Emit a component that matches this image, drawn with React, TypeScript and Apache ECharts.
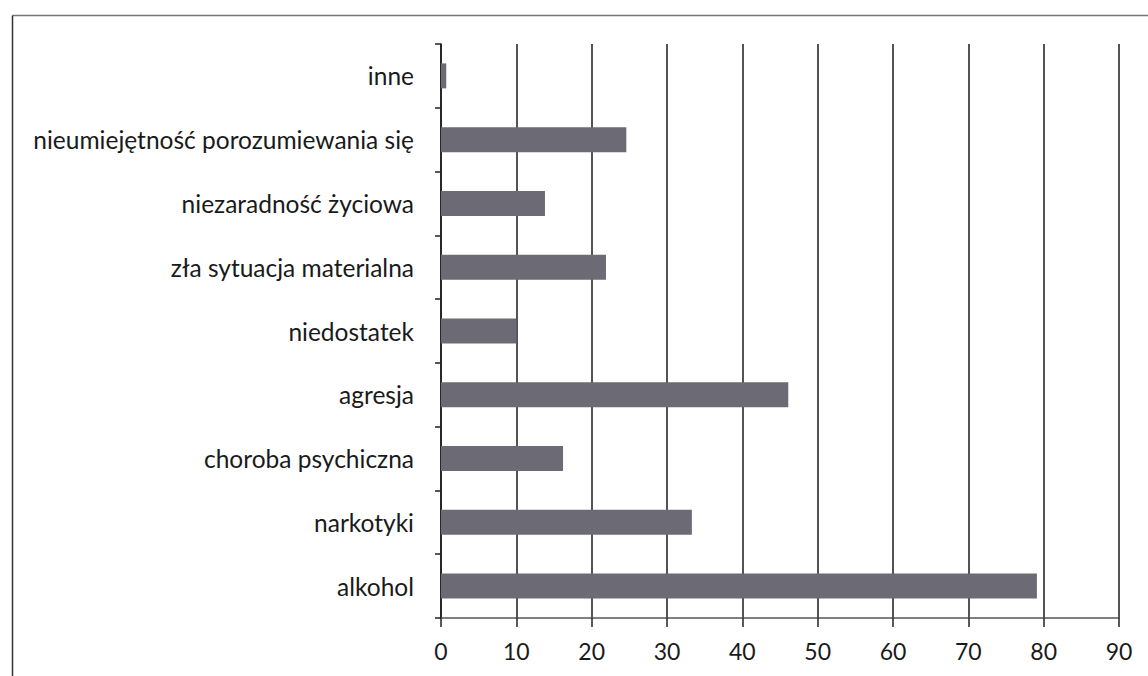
import React, { useEffect, useRef } from "react";
import * as echarts from "echarts";

const categories = [
  "alkohol",
  "narkotyki",
  "choroba psychiczna",
  "agresja",
  "niedostatek",
  "zła sytuacja materialna",
  "niezaradność życiowa",
  "nieumiejętność porozumiewania się",
  "inne",
];
const values = [79.1, 33.3, 16.2, 46.1, 10.0, 21.9, 13.8, 24.6, 0.7];
const xTicks = { min: 0, max: 90, interval: 10 };

export default function App() {
  const ref = useRef<HTMLDivElement>(null);
  useEffect(() => {
    document.body.style.margin = "0";
    const chart = echarts.init(ref.current!, undefined, { renderer: "svg" });
    chart.setOption({
      animation: false,
      backgroundColor: "#ffffff",
      textStyle: { fontFamily: "Lato" },
      grid: { left: 441, top: 44, width: 678, height: 574, containLabel: false },
      graphic: [
        {
          type: "line",
          shape: { x1: 12.5, y1: 15.5, x2: 1148, y2: 15.5 },
          style: { stroke: "#777777", lineWidth: 1.5 },
          silent: true,
        },
        {
          type: "line",
          shape: { x1: 12.5, y1: 15.5, x2: 12.5, y2: 676 },
          style: { stroke: "#333333", lineWidth: 1.5 },
          silent: true,
        },
      ],
      xAxis: {
        type: "value",
        min: xTicks.min,
        max: xTicks.max,
        interval: xTicks.interval,
        axisLine: { show: true, lineStyle: { color: "#555555", width: 1.5 } },
        axisTick: { show: true, inside: false, length: 9, lineStyle: { color: "#222222", width: 1.5 } },
        splitLine: { show: true, lineStyle: { color: "#1a1a1a", width: 1.5 } },
        axisLabel: { color: "#1a1a1a", fontSize: 23, margin: 21, fontFamily: "Lato" },
      },
      yAxis: {
        type: "category",
        data: categories,
        axisLine: { show: true, lineStyle: { color: "#1a1a1a", width: 1.5 } },
        axisTick: { show: true, length: 6, lineStyle: { color: "#222222", width: 1.5 } },
        axisLabel: { color: "#1a1a1a", fontSize: 24.5, margin: 27, fontFamily: "Lato" },
        splitLine: { show: false },
      },
      series: [
        {
          type: "bar",
          data: values,
          barWidth: 25,
          itemStyle: { color: "#6c6b75" },
        },
      ],
    });
    return () => chart.dispose();
  }, []);
  return (
    <div
      ref={ref}
      style={{ position: "absolute", left: 0, top: 0, width: 1148, height: 676 }}
    />
  );
}
